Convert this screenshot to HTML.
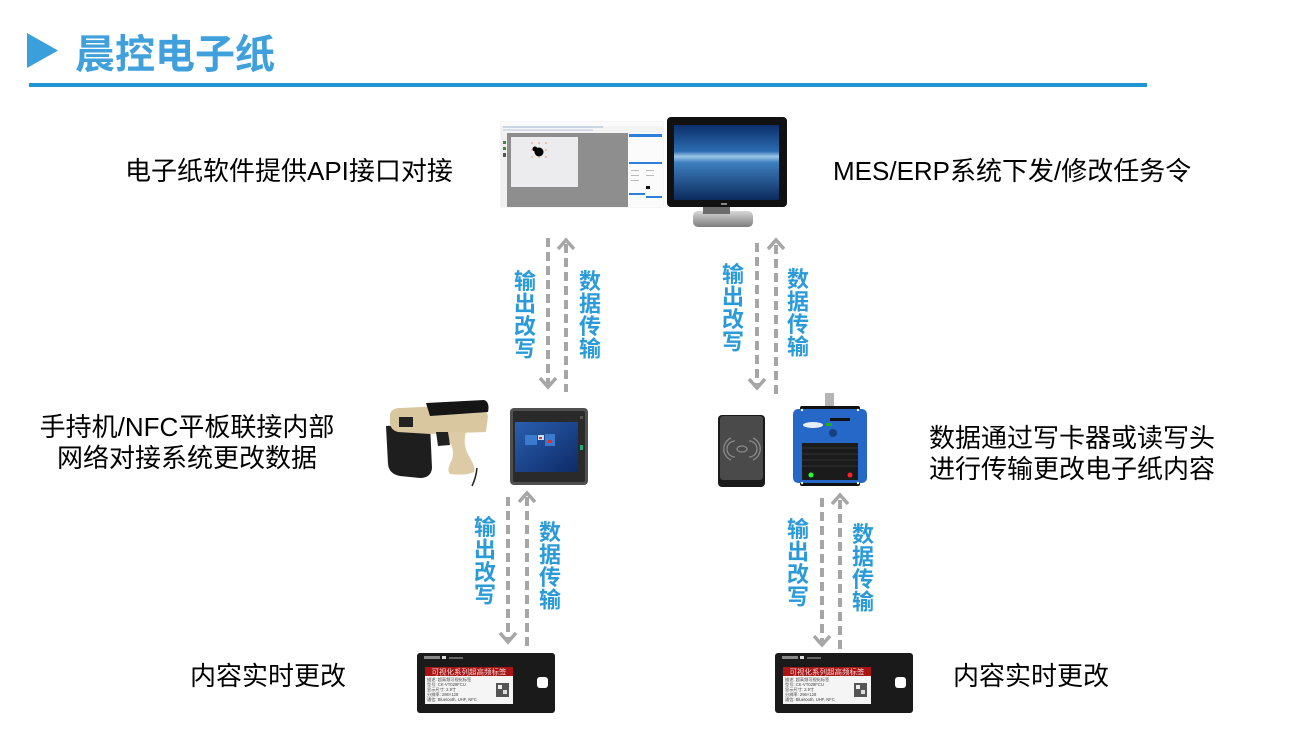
<!DOCTYPE html>
<html><head><meta charset="utf-8"><style>
html,body{margin:0;padding:0;background:#fff;}
svg{display:block;}
text{font-family:"Liberation Sans","Noto Sans CJK SC",sans-serif;}
</style></head><body>
<svg width="1290" height="738" viewBox="0 0 1290 738" xmlns="http://www.w3.org/2000/svg">
<defs>
<linearGradient id="scr" x1="0" y1="0" x2="0" y2="1">
<stop offset="0" stop-color="#0c2f6b"/><stop offset="0.35" stop-color="#2a6cb0"/><stop offset="0.42" stop-color="#9cc7e8"/><stop offset="0.5" stop-color="#3d7fbf"/><stop offset="1" stop-color="#0b2a5c"/>
</linearGradient>
<linearGradient id="silver" x1="0" y1="0" x2="0" y2="1">
<stop offset="0" stop-color="#d8d8d8"/><stop offset="1" stop-color="#7d7d7d"/>
</linearGradient>
<linearGradient id="tab" x1="0" y1="0" x2="1" y2="1">
<stop offset="0" stop-color="#2a5fb0"/><stop offset="1" stop-color="#0d2a66"/>
</linearGradient>
</defs>

<!-- Title -->
<polygon points="27,33 58,50.5 27,68" fill="#3b9fdc"/>
<text x="75" y="68" font-size="40" font-weight="bold" fill="#3fa0db">晨控电子纸</text>
<rect x="29" y="83" width="1118" height="4" fill="#1f95d2"/>

<!-- Labels -->
<g fill="#000" font-size="26">
<text x="125" y="180">电子纸软件提供API接口对接</text>
<text x="833" y="180">MES/ERP系统下发/修改任务令</text>
<text x="187" y="436" text-anchor="middle">手持机/NFC平板联接内部</text>
<text x="187" y="467" text-anchor="middle">网络对接系统更改数据</text>
<text x="929" y="447">数据通过写卡器或读写头</text>
<text x="929" y="478">进行传输更改电子纸内容</text>
<text x="190" y="685">内容实时更改</text>
<text x="953" y="685">内容实时更改</text>
</g>

<!-- Software screenshot -->
<rect x="501" y="122" width="162" height="85" fill="#f4f4f4" stroke="#d8d8d8" stroke-width="0.5"/>
<rect x="501" y="122" width="162" height="4" fill="#fafafa"/>
<rect x="503" y="126" width="100" height="2" fill="#c9d4e4"/>
<rect x="503" y="129" width="90" height="2" fill="#d7dde8"/>
<rect x="502" y="133" width="5" height="74" fill="#f0f0f0"/>
<rect x="503" y="141" width="3" height="3" fill="#3a8a3a"/>
<rect x="503" y="147" width="3" height="3" fill="#3a8a3a"/>
<rect x="503" y="153" width="3" height="4" fill="#555"/>
<rect x="507" y="133" width="121" height="74" fill="#8e8e8e"/>
<rect x="511" y="137" width="67" height="50" fill="#ececef"/>
<circle cx="539" cy="152" r="4.5" fill="#000"/>
<circle cx="535" cy="149" r="2.5" fill="#000"/>
<g fill="#e8a080"><circle cx="532" cy="143" r="0.9"/><circle cx="539" cy="143" r="0.9"/><circle cx="546" cy="143" r="0.9"/><circle cx="532" cy="150" r="0.9"/><circle cx="546" cy="150" r="0.9"/><circle cx="532" cy="157" r="0.9"/><circle cx="539" cy="157" r="0.9"/><circle cx="546" cy="157" r="0.9"/></g>
<rect x="628" y="133" width="35" height="74" fill="#fbfbfb"/>
<rect x="629" y="134" width="33" height="3" fill="#2f7fd8"/>
<rect x="629" y="162" width="33" height="2" fill="#2f7fd8"/>
<rect x="629" y="193" width="16" height="2" fill="#2f7fd8"/>
<rect x="646" y="196" width="16" height="2" fill="#2f7fd8"/>
<g fill="#bbb"><rect x="631" y="170" width="8" height="1"/><rect x="631" y="175" width="8" height="1"/><rect x="631" y="180" width="8" height="1"/><rect x="646" y="170" width="8" height="1"/><rect x="646" y="175" width="8" height="1"/><rect x="646" y="186" width="4" height="3" fill="#111"/></g>

<!-- Monitor -->
<rect x="693" y="211" width="60" height="16" rx="5" fill="url(#silver)"/>
<rect x="703" y="203" width="27" height="11" fill="#6c6c6c"/>
<rect x="667" y="117" width="120" height="90" rx="4" fill="#111"/>
<rect x="674" y="125" width="105" height="75" fill="url(#scr)"/>
<rect x="721" y="203" width="6" height="2" fill="#888"/>

<!-- Handheld scanner -->
<path d="M472,486 Q476,478 477,468" stroke="#222" stroke-width="1.5" fill="none"/>
<path d="M386,426 L430,424 L432,468 Q431,478 420,478 L400,476 Q389,474 388,464 Z" fill="#1e1e1e"/>
<path d="M390,414 Q392,408 400,408 L484,404 L488,416 L486,432 L430,434 L398,432 Q390,430 390,422 Z" fill="#d9c7a0"/>
<path d="M426,403 L484,400 Q490,402 488,412 L430,416 Z" fill="#151515"/>
<rect x="399" y="417" width="14" height="10" fill="#222"/>
<path d="M448,432 L466,432 Q462,445 470,458 Q476,468 474,472 Q466,476 450,474 Q446,470 452,460 Q455,448 448,440 Z" fill="#dccba4"/>
<path d="M436,432 L448,432 L450,445 L438,446 Z" fill="#222"/>

<!-- Tablet -->
<rect x="510" y="408" width="78" height="77" rx="4" fill="#505050"/>
<rect x="513" y="411" width="72" height="71" rx="2" fill="#2a2a2a"/>
<rect x="515" y="422" width="63" height="50" fill="url(#tab)"/>
<rect x="525" y="435" width="12" height="10" fill="#3a7bd0"/>
<rect x="538" y="435" width="6" height="5" fill="#cfe0f5"/>
<rect x="539" y="437" width="3" height="2" fill="#d33"/>
<rect x="545" y="434" width="10" height="12" fill="#3a7bd0"/>
<rect x="548" y="440" width="4" height="3" fill="#d33"/>
<rect x="580" y="416" width="3" height="3" fill="#555"/>
<rect x="580" y="445" width="3" height="5" fill="#2a7"/>

<!-- RFID pad -->
<rect x="718" y="415" width="47" height="72" rx="4" fill="#1a1a1a"/>
<rect x="720" y="416" width="43" height="64" rx="3" fill="#4a4a4a"/>
<g fill="none" stroke="#8a8a8a" stroke-width="1.3">
<path d="M735,441 A8,8 0 0 0 735,457"/><path d="M731,438 A12,12 0 0 0 731,460"/>
<path d="M749,441 A8,8 0 0 1 749,457"/><path d="M753,438 A12,12 0 0 1 753,460"/>
<ellipse cx="742" cy="449" rx="5" ry="3"/>
</g>

<!-- Blue reader -->
<rect x="825" y="393" width="9" height="16" fill="#b5b5b5"/>
<rect x="800" y="406" width="60" height="8" rx="2" fill="#111"/>
<rect x="800" y="478" width="60" height="8" rx="2" fill="#111"/>
<rect x="793" y="409" width="74" height="74" rx="5" fill="#2568c8"/>
<ellipse cx="813" cy="425" rx="10" ry="3" fill="#e8eef8"/>
<rect x="830" y="418" width="20" height="3" fill="#111"/>
<rect x="826" y="423" width="6" height="3" fill="#2a2"/>
<circle cx="833" cy="433" r="4" fill="#1a3f80"/>
<rect x="802" y="443" width="56" height="37" fill="#1b1b1b"/>
<g stroke="#333" stroke-width="1"><line x1="802" y1="448" x2="858" y2="448"/><line x1="802" y1="454" x2="858" y2="454"/><line x1="802" y1="460" x2="858" y2="460"/><line x1="802" y1="466" x2="858" y2="466"/></g>
<circle cx="811" cy="475" r="2.5" fill="#2f3"/>
<circle cx="850" cy="475" r="2.5" fill="#f22"/>
<circle cx="802" cy="410" r="1.2" fill="#fff"/><circle cx="858" cy="410" r="1.2" fill="#fff"/>
<circle cx="802" cy="483" r="1.2" fill="#fff"/><circle cx="858" cy="483" r="1.2" fill="#fff"/>

<!-- E-paper tags -->
<g id="tag1">
<rect x="417" y="653" width="138" height="60" rx="3" fill="#1a1a1a"/>
<rect x="424" y="656" width="16" height="3" fill="#888"/>
<rect x="442" y="656" width="4" height="3" fill="#ddd"/>
<rect x="449" y="657" width="14" height="2" fill="#666"/>
<rect x="425" y="667" width="88" height="37" fill="#f5f5f5"/>
<rect x="425" y="667" width="88" height="9" fill="#a91414"/>
<text x="469" y="674.5" font-size="7.5" fill="#f3d7d7" text-anchor="middle" font-family="Noto Serif CJK SC,serif">可视化系列超高频标签</text>
<g font-size="4.2" fill="#444"><text x="427" y="681">描述: 超高频可视化标签</text><text x="427" y="686">型号: CK-VT029FCU</text><text x="427" y="691">显示尺寸: 2.9寸</text><text x="427" y="696">分辨率: 296×128</text><text x="427" y="701">通信: Bluetooth, UHF, NFC</text></g>
<rect x="496" y="683" width="13" height="14" fill="#555"/>
<rect x="498" y="685" width="4" height="4" fill="#eee"/><rect x="503" y="690" width="4" height="4" fill="#ddd"/>
<rect x="537" y="677" width="11" height="11" rx="3" fill="#fff"/>
</g>
<use href="#tag1" transform="translate(358,0)"/>

<!-- Arrows -->
<g stroke="#a6a6a6" stroke-width="4" fill="none">
<g stroke-dasharray="9 5">
<line x1="548" y1="238" x2="548" y2="384"/>
<line x1="566" y1="244" x2="566" y2="392"/>
<line x1="757" y1="243" x2="757" y2="385"/>
<line x1="776" y1="245" x2="776" y2="395"/>
<line x1="508" y1="497" x2="508" y2="639"/>
<line x1="527" y1="497" x2="527" y2="650"/>
<line x1="822" y1="498" x2="822" y2="642"/>
<line x1="840" y1="500" x2="840" y2="652"/>
</g>
<g stroke-width="3.5" stroke-linecap="butt" stroke-linejoin="miter">
<polyline points="540,378 548,387 556,378"/>
<polyline points="558,249 566,240 574,249"/>
<polyline points="749,379 757,388 765,379"/>
<polyline points="768,249 776,240 784,249"/>
<polyline points="500,633 508,642 516,633"/>
<polyline points="519,502 527,493 535,502"/>
<polyline points="814,636 822,645 830,636"/>
<polyline points="832,504 840,495 848,504"/>
</g>
</g>

<!-- Vertical labels -->
<g font-size="22" font-weight="bold" fill="#2a9ad9" text-anchor="middle">
<text x="525" y="289">输</text><text x="525" y="311.5">出</text><text x="525" y="334">改</text><text x="525" y="356.5">写</text>
<text x="590" y="289">数</text><text x="590" y="311.5">据</text><text x="590" y="334">传</text><text x="590" y="356.5">输</text>
<text x="733" y="282">输</text><text x="733" y="304.5">出</text><text x="733" y="327">改</text><text x="733" y="349.5">写</text>
<text x="798" y="287">数</text><text x="798" y="309.5">据</text><text x="798" y="332">传</text><text x="798" y="354.5">输</text>
<text x="485" y="535">输</text><text x="485" y="557.5">出</text><text x="485" y="580">改</text><text x="485" y="602.5">写</text>
<text x="550" y="540">数</text><text x="550" y="562.5">据</text><text x="550" y="585">传</text><text x="550" y="607.5">输</text>
<text x="798" y="537">输</text><text x="798" y="559.5">出</text><text x="798" y="582">改</text><text x="798" y="604.5">写</text>
<text x="863" y="542">数</text><text x="863" y="564.5">据</text><text x="863" y="587">传</text><text x="863" y="609.5">输</text>
</g>
</svg>
</body></html>
